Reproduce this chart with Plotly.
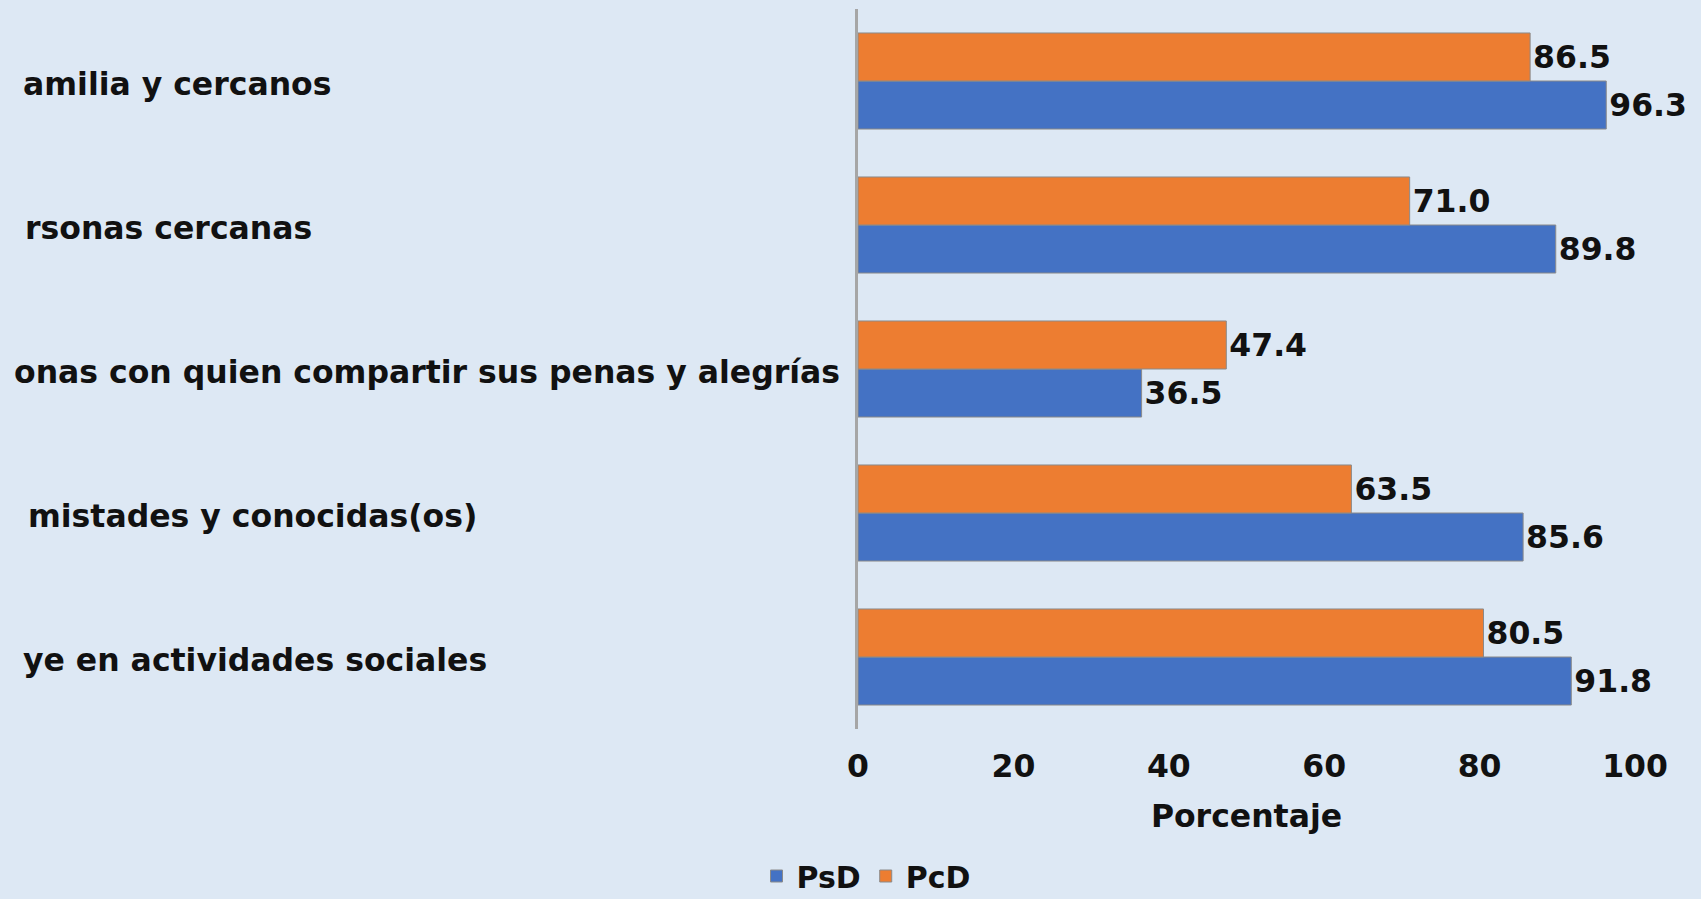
import plotly.graph_objects as go

categories = [
    "amilia y cercanos",
    "rsonas cercanas",
    "onas con quien compartir sus penas y alegrías",
    "mistades y conocidas(os)",
    "ye en actividades sociales",
]
psd = [96.3, 89.8, 36.5, 85.6, 91.8]
pcd = [86.5, 71.0, 47.4, 63.5, 80.5]
x_ticks = [0, 20, 40, 60, 80, 100]

BG = "#dde8f4"
BLUE = "#4472c4"
ORANGE = "#ed7d31"
FONT = "DejaVu Sans"
FS = 31.5
TXT = "#111111"

W, H = 1701, 899
L, R, T, B = 858, 66, 9, 170
pw = W - L - R
ph = H - T - B

def f(size=FS):
    return dict(family=FONT, size=size, color=TXT, weight="bold")

fig = go.Figure()
for name, vals, col in [("PsD", psd, BLUE), ("PcD", pcd, ORANGE)]:
    fig.add_trace(go.Bar(
        y=categories, x=vals, orientation="h", name=name,
        marker=dict(color=col, line=dict(color="#8a8a8a", width=1)),
        texttemplate="%{x:.1f}", textposition="outside",
        textfont=f(), cliponaxis=False, constraintext="none",
    ))

# left-aligned category labels (clipped at the left in the original)
label_left_px = [21, 23, 12, 26, 21]
for cat, lx in zip(categories, label_left_px):
    fig.add_annotation(
        text=cat, xref="paper", x=(lx - L) / pw, xanchor="left",
        yref="y", y=cat, yanchor="middle", yshift=-3, showarrow=False,
        font=f(),
    )

fig.update_layout(
    width=W, height=H,
    margin=dict(l=L, r=R, t=T, b=B, autoexpand=False),
    paper_bgcolor=BG, plot_bgcolor=BG,
    barmode="group", bargap=0.333, bargroupgap=0,
    font=f(),
    showlegend=True,
    legend=dict(orientation="h", x=(866 - L) / pw, xanchor="center",
                y=(T + ph - 876) / ph, yanchor="middle",
                font=f(30), bgcolor="rgba(0,0,0,0)", tracegroupgap=0,
                itemwidth=30),
    xaxis=dict(range=[0, 100], tickvals=x_ticks, showgrid=False, zeroline=False,
               showline=False, ticks="", ticklabelstandoff=15,
               tickfont=f(),
               title=dict(text="Porcentaje", standoff=22, font=f())),
    yaxis=dict(categoryorder="array", categoryarray=categories[::-1],
               range=[-0.5, 4.5], showticklabels=False, showgrid=False,
               zeroline=False, showline=True, linecolor="#a6a6a6", linewidth=3,
               ticks=""),
)

fig.write_html("out.html", config={"displayModeBar": False},
               post_script="document.body.style.margin='0';document.body.style.background='" + BG + "';")
